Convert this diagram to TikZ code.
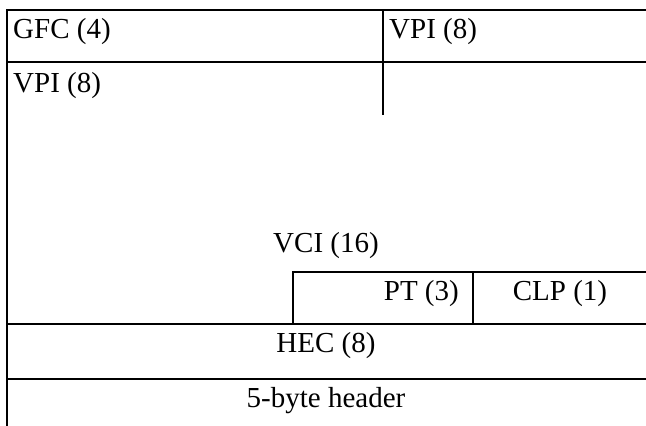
\documentclass[tikz,border=0pt]{standalone}
\usepackage{fontspec}
\setmainfont{Liberation Serif}
\begin{document}
\begin{tikzpicture}[x=1pt,y=-1pt,
  grid/.style={line width=2pt},
  lbl/.style={inner sep=0pt,font=\fontsize{29}{35}\selectfont}]
\useasboundingbox (0,0) rectangle (646,426);
\fill[white] (0,0) rectangle (646,426);
% grid lines
\draw[grid] (646,10) -- (7,10) -- (7,426);
\draw[grid] (383,10) -- (383,115);
\draw[grid] (7,62) -- (646,62);
\draw[grid] (293,324) -- (293,272) -- (646,272);
\draw[grid] (473,272) -- (473,324);
\draw[grid] (7,324) -- (646,324);
\draw[grid] (7,379) -- (646,379);
% labels
\node[lbl,anchor=base west] (gfc) at (13,38) {GFC (4)};
\node[lbl,anchor=base west] (vpia) at (389,38) {VPI (8)};
\node[lbl,anchor=base west] (vpib) at (13,92) {VPI (8)};
\node[lbl,anchor=base] (vci) at (326,252) {VCI (16)};
\node[lbl,anchor=base east] (pt) at (459,300) {PT (3)};
\node[lbl,anchor=base] (clp) at (560,300) {CLP (1)};
\node[lbl,anchor=base] (hec) at (326,352) {HEC (8)};
\node[lbl,anchor=base] (hdr) at (326,407) {5-byte header};
\end{tikzpicture}
\end{document}
